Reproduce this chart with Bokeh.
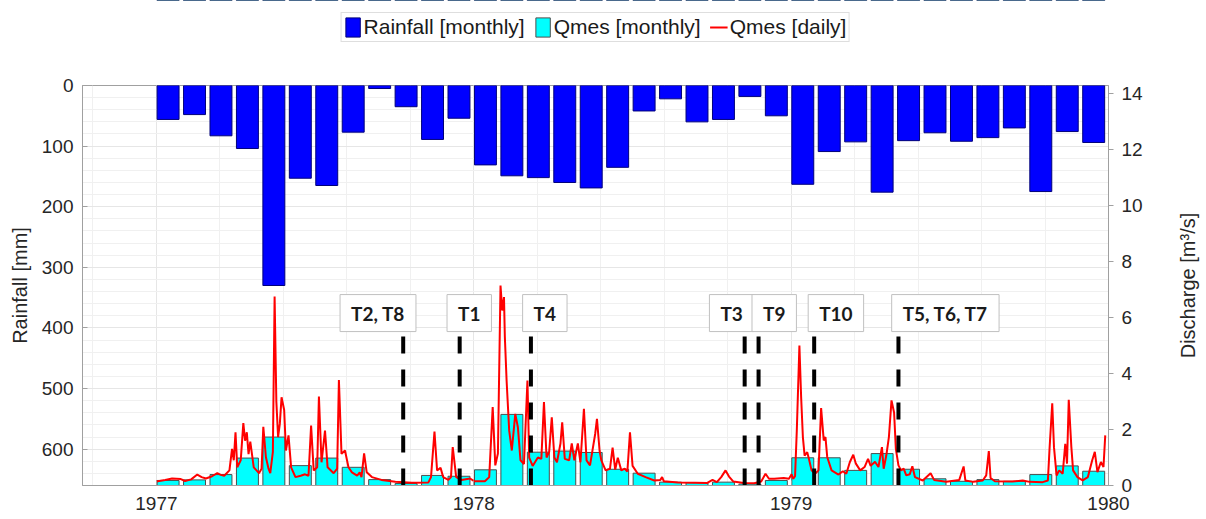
import numpy as np
from bokeh.plotting import figure
from bokeh.layouts import row, column
from bokeh.models import (Range1d, LinearAxis, FixedTicker, Legend, LegendItem,
                          Label, ColumnDataSource, Title)
from bokeh.embed import file_html
from bokeh.resources import INLINE

# ---------------- data ----------------
start_year = 1977
# monthly values, Jan 1977 .. Dec 1979
rain_mm = [56, 48, 83, 104, 330, 153, 165, 77, 5, 35, 89, 54,
           131, 149, 152, 160, 169, 135, 42, 22, 60, 56, 18, 50,
           163, 109, 93, 176, 91, 78, 92, 86, 70, 175, 76, 94]
qmes_monthly = [0.18, 0.20, 0.39, 0.98, 1.73, 0.71, 0.98, 0.65, 0.21, 0.07, 0.36, 0.33,
                0.56, 2.54, 1.19, 1.23, 1.18, 0.58, 0.44, 0.12, 0.10, 0.12, 0.05, 0.18,
                0.99, 0.99, 0.54, 1.14, 0.58, 0.24, 0.15, 0.21, 0.15, 0.39, 0.70, 0.51]

# daily discharge, read at key days (days since 1977-01-01)
q_day = [0, 10, 18, 28, 33, 40, 47, 52, 57, 64, 70, 74, 78, 84, 87, 89, 91, 93, 97, 100,
         102, 104, 106, 108, 112, 118, 121, 123, 126, 129, 131, 134, 136, 138, 140, 142, 144,
         147, 149, 152, 155, 160, 166, 171, 175, 178, 181, 185, 187, 190, 194, 197, 204, 208,
         210, 213, 217, 221, 225, 231, 234, 236, 239, 242, 248, 259, 275, 294, 313, 316, 320,
         323, 327, 330, 336, 339, 341, 345, 351, 361, 366, 378, 383, 387, 390, 393, 396, 398,
         400, 401, 403, 406, 409, 413, 416, 419, 423, 427, 429, 433, 439, 443, 446, 449, 452,
         455, 458, 461, 465, 467, 470, 475, 478, 481, 485, 488, 492, 495, 499, 505, 507, 510,
         512, 517, 522, 525, 528, 531, 535, 539, 542, 545, 548, 554, 563, 573, 580, 582, 584,
         600, 620, 634, 640, 645, 650, 655, 659, 664, 676, 688, 696, 701, 705, 711, 722, 728,
         731, 733, 735, 737, 740, 742, 744, 746, 749, 751, 754, 758, 762, 765, 768, 770, 772,
         777, 785, 790, 794, 798, 802, 805, 810, 815, 819, 822, 827, 831, 835, 837, 840, 843,
         846, 849, 851, 854, 857, 860, 863, 867, 870, 873, 882, 891, 895, 909, 924, 929, 931,
         940, 951, 955, 958, 960, 965, 985, 997, 1005, 1020, 1026, 1028, 1031, 1033, 1036,
         1039, 1043, 1046, 1048, 1050, 1053, 1055, 1060, 1066, 1072, 1077, 1080, 1083, 1087,
         1090, 1092]
q_daily = [0.14, 0.20, 0.25, 0.23, 0.16, 0.22, 0.39, 0.30, 0.25, 0.33, 0.44, 0.38, 0.35, 0.54,
           1.31, 0.90, 1.90, 0.65, 0.90, 2.23, 1.60, 1.90, 1.12, 1.57, 0.65, 0.44, 0.60, 2.10,
           1.01, 0.60, 0.44, 1.20, 6.75, 3.00, 1.73, 2.20, 3.15, 2.70, 1.25, 1.79, 0.65, 0.30,
           0.35, 0.40, 0.35, 2.14, 0.54, 0.65, 3.18, 0.83, 1.96, 0.65, 0.44, 0.60, 3.77, 1.13,
           1.25, 0.65, 0.47, 0.35, 0.47, 0.30, 1.15, 0.47, 0.30, 0.20, 0.13, 0.10, 0.11, 0.30,
           1.93, 0.54, 0.63, 0.30, 0.20, 0.30, 1.37, 0.30, 0.20, 0.25, 0.15, 0.15, 0.30, 2.80,
           0.72, 1.14, 7.14, 6.25, 6.73, 5.30, 3.75, 1.96, 1.25, 2.56, 2.08, 0.90, 0.77, 3.75,
           1.00, 0.70, 1.00, 0.95, 2.98, 1.00, 1.20, 2.44, 1.00, 0.83, 1.50, 2.26, 0.95, 0.90,
           1.50, 0.90, 1.50, 0.83, 2.74, 0.90, 0.72, 1.85, 2.38, 1.25, 0.90, 0.54, 0.60, 1.35,
           0.57, 0.99, 0.54, 0.60, 0.50, 1.90, 0.70, 0.42, 0.30, 0.18, 0.20, 0.30, 0.15, 0.11,
           0.10, 0.09, 0.20, 0.12, 0.30, 0.54, 0.32, 0.14, 0.09, 0.08, 0.14, 0.42, 0.24, 0.24,
           0.27, 0.24, 0.40, 0.24, 0.33, 1.96, 5.00, 3.15, 1.73, 1.07, 1.19, 0.95, 0.54, 0.42,
           0.54, 2.77, 1.61, 1.73, 1.02, 0.54, 0.39, 0.51, 0.42, 0.83, 1.10, 0.78, 0.54, 0.66,
           0.95, 0.70, 0.85, 0.66, 1.37, 0.60, 1.07, 1.73, 3.04, 2.60, 1.31, 0.72, 0.54, 0.60,
           0.36, 0.40, 0.69, 0.30, 0.18, 0.44, 0.20, 0.13, 0.20, 0.68, 0.18, 0.13, 0.18, 0.36,
           1.23, 0.27, 0.15, 0.14, 0.18, 0.13, 0.12, 0.18, 1.37, 2.94, 1.37, 0.36, 0.54, 0.42,
           1.49, 0.78, 3.06, 1.37, 0.54, 0.30, 0.18, 0.30, 0.90, 1.20, 0.48, 0.84, 0.66, 1.79]

# test events (days since 1977-01-01) and the days where their boxes are centred
event_names = ["T2, T8", "T1", "T4", "T3", "T9", "T10", "T5, T6, T7"]
event_day = [284, 349, 431, 677, 693, 757, 854]
event_label_day = [255, 360, 447, 662, 711, 782, 908]

x_ticks = [1977, 1978, 1979, 1980]
rain_ticks = [0, 100, 200, 300, 400, 500, 600]
q_ticks = [0, 2, 4, 6, 8, 10, 12, 14]
q_title = "Discharge [m\u00b3/s]"
series_names = ["Rainfall [monthly]", "Qmes [monthly]", "Qmes [daily]"]

# ---------------- derived ----------------
days_per_year = 365.25
month_x = [start_year + (m + 0.44) / 12.0 for m in range(len(rain_mm))]
bar_w = 0.83 / 12.0
qx = [start_year + d / days_per_year for d in q_day]
ev_x = [start_year + d / days_per_year for d in event_day]
lab_x = [start_year + d / days_per_year for d in event_label_day]

FONT = "Liberation Sans"
W = 1174
LEG_H = 75
H = 442
TOP, BOTTOM, LEFT, RIGHT = 10, 32, 82, 66
X0, X1 = 1976.767, 1980.0

RAIN_STYLE = dict(fill_color="#0000ff", line_color="#00007a", line_width=1)
QM_STYLE = dict(fill_color="#00ffff", line_color="#4d4d4d", line_width=1)
QD_STYLE = dict(line_color="#ff0000", line_width=2)

p = figure(width=W, height=H, output_backend="svg", toolbar_location=None,
           x_range=Range1d(X0, X1), y_range=Range1d(660, 0),
           min_border_left=LEFT, min_border_right=RIGHT, min_border_top=TOP,
           min_border_bottom=BOTTOM)
p.extra_y_ranges = {"q": Range1d(0, 14.29)}
p.outline_line_color = "#a0a0a0"
p.background_fill_color = "white"

# grids
p.xaxis.ticker = FixedTicker(ticks=x_ticks,
                             minor_ticks=[1976.8 + 0.2 * i for i in range(17)])
p.yaxis.ticker = FixedTicker(ticks=rain_ticks, minor_ticks=list(range(0, 661, 20)))
p.xgrid.grid_line_color = "#e6e6e6"
p.xgrid.minor_grid_line_color = "#f0f0f0"
p.ygrid.grid_line_color = "#e6e6e6"
p.ygrid.minor_grid_line_color = "#f0f0f0"

for ax in (p.xaxis[0], p.yaxis[0]):
    ax.axis_line_color = "#a0a0a0"
    ax.major_tick_line_color = "#a0a0a0"
    ax.minor_tick_line_color = None
    ax.major_tick_in = 5
    ax.major_tick_out = 0
    ax.major_label_text_font = FONT
    ax.major_label_text_font_size = "19px"
    ax.major_label_text_color = "#262626"
    ax.axis_label_text_font = FONT
    ax.axis_label_text_font_size = "20px"
    ax.axis_label_text_font_style = "normal"
    ax.axis_label_text_color = "#262626"

p.xaxis.major_label_standoff = 7
p.yaxis.axis_label = "Rainfall [mm]"
p.yaxis.major_label_standoff = 5
p.yaxis.axis_label_standoff = 8

right = LinearAxis(y_range_name="q", ticker=FixedTicker(ticks=q_ticks))
right.axis_line_color = "#a0a0a0"
right.major_tick_line_color = "#a0a0a0"
right.major_tick_in = 0
right.major_tick_out = 5
right.minor_tick_line_color = None
right.major_label_text_font = FONT
right.major_label_text_font_size = "19px"
right.major_label_text_color = "#262626"
right.major_label_standoff = 8
p.add_layout(right, "right")

# rainfall bars (hanging from the top)
src_m = ColumnDataSource(dict(x=month_x, rain=rain_mm, q=qmes_monthly))
src_d = ColumnDataSource(dict(x=qx, q=q_daily))
p.vbar(x="x", width=bar_w, bottom=0, top="rain", source=src_m, **RAIN_STYLE)
# monthly discharge bars
p.vbar(x="x", width=bar_w, bottom=0, top="q", source=src_m, y_range_name="q", **QM_STYLE)
# daily discharge
p.line(x="x", y="q", source=src_d, y_range_name="q", **QD_STYLE)

# test event lines
p.segment(x0=ev_x, y0=[0] * len(ev_x), x1=ev_x, y1=[5.36] * len(ev_x), y_range_name="q",
          line_color="black", line_width=4, line_dash="17 16")

for name, lx in zip(event_names, lab_x):
    p.add_layout(Label(x=lx, y=6.16, y_range_name="q", text=name, text_align="center",
                       text_baseline="middle", text_font="Lato", text_font_style="bold",
                       text_font_size="19px", text_color="#1a1a1a",
                       background_fill_color="white", border_line_color="#c0c0c0",
                       border_line_width=1, padding=(11, 7)))

# legend strip above the plot: same series and styles; its view lies below all values
pl = figure(width=W, height=LEG_H, output_backend="svg", toolbar_location=None,
            x_axis_type=None, y_axis_type=None, min_border_left=LEFT,
            min_border_right=RIGHT, min_border_top=0, min_border_bottom=0,
            x_range=Range1d(X0, X1), y_range=Range1d(-2, -1))
pl.outline_line_color = None
pl.grid.visible = False
lr1 = pl.vbar(x="x", bottom=0, top="rain", width=bar_w, source=src_m, **RAIN_STYLE)
lr2 = pl.vbar(x="x", bottom=0, top="q", width=bar_w, source=src_m, **QM_STYLE)
lr3 = pl.line(x="x", y="q", source=src_d, **QD_STYLE)
legend = Legend(items=[LegendItem(label=series_names[0], renderers=[lr1]),
                       LegendItem(label=series_names[1], renderers=[lr2]),
                       LegendItem(label=series_names[2], renderers=[lr3])],
                orientation="horizontal", location="top_center",
                label_text_font=FONT, label_text_font_size="21px",
                label_text_color="#1a1a1a", glyph_width=18, glyph_height=24,
                label_standoff=2, spacing=9, padding=2, margin=12,
                border_line_color="#bdbdbd", background_fill_color="white",
                background_fill_alpha=1.0)
pl.add_layout(legend)

# narrow companion figure carrying the right-hand axis title (reads bottom to top)
p2 = figure(width=30, height=H, output_backend="svg", toolbar_location=None,
            x_axis_type=None, y_axis_type=None, min_border_left=0, min_border_right=0,
            min_border_top=TOP, min_border_bottom=BOTTOM, x_range=Range1d(0, 1),
            y_range=Range1d(0, 1))
p2.outline_line_color = None
p2.grid.visible = False
p2.add_layout(Title(text=q_title, align="center", text_font=FONT, text_font_size="20px",
                    text_font_style="normal", text_color="#262626", standoff=0, offset=0),
              "left")

layout = column(pl, row(p, p2))
open("out.html", "w").write(file_html(layout, INLINE))
